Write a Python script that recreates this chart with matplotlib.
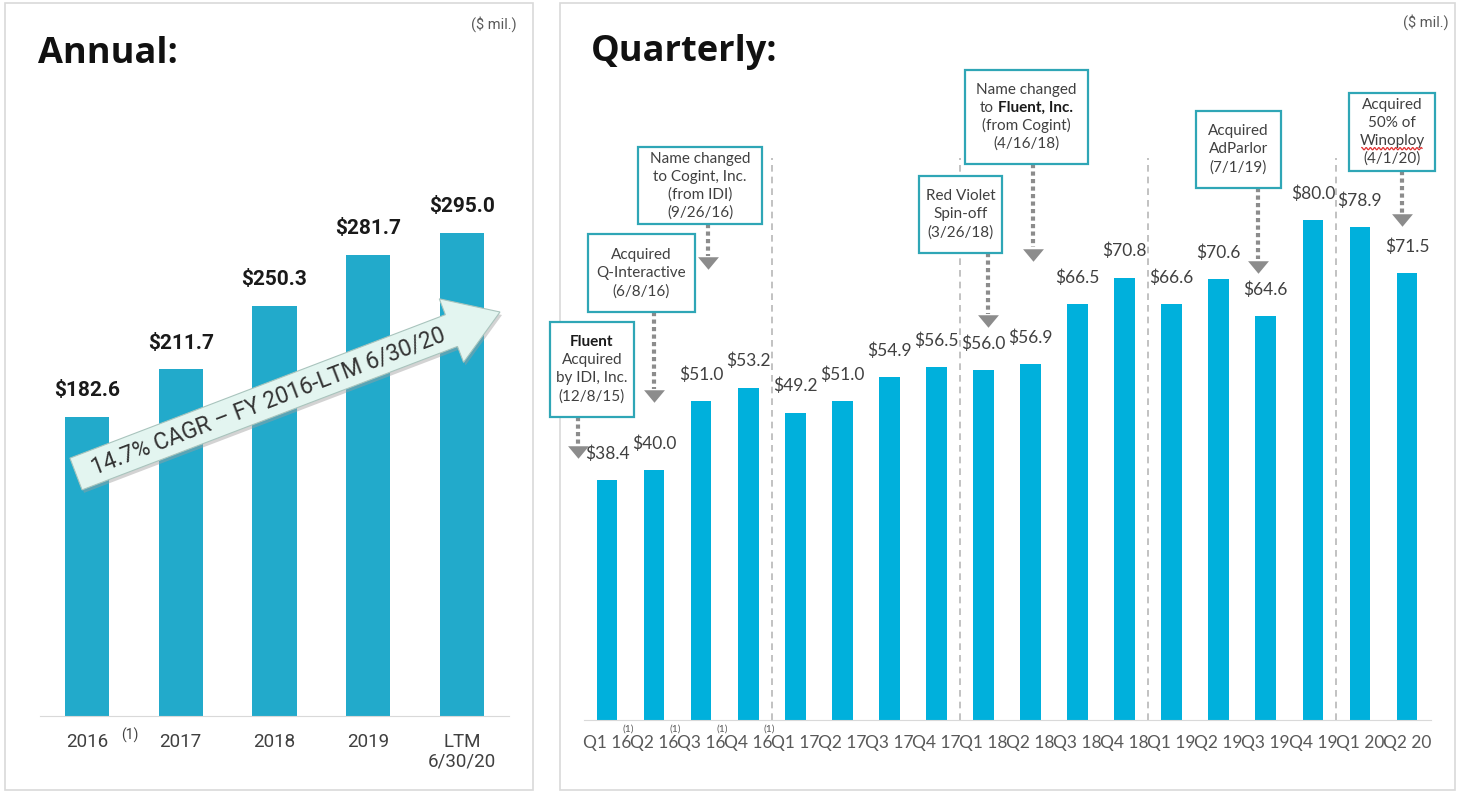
import matplotlib
matplotlib.use("Agg")
import matplotlib.pyplot as plt
import numpy as np
from matplotlib.patches import Rectangle, FancyArrow
from matplotlib.transforms import IdentityTransform
from matplotlib.offsetbox import TextArea, HPacker, AnnotationBbox

# annual revenue ($ mil.)
years = ["2016", "2017", "2018", "2019", "LTM\n6/30/20"]
annual_rev = [182.6, 211.7, 250.3, 281.7, 295.0]

# quarterly revenue ($ mil.)
quarters = ["Q1 16", "Q2 16", "Q3 16", "Q4 16",
            "Q1 17", "Q2 17", "Q3 17", "Q4 17",
            "Q1 18", "Q2 18", "Q3 18", "Q4 18",
            "Q1 19", "Q2 19", "Q3 19", "Q4 19",
            "Q1 20", "Q2 20"]
quarterly_rev = [38.4, 40.0, 51.0, 53.2,
                 49.2, 51.0, 54.9, 56.5,
                 56.0, 56.9, 66.5, 70.8,
                 66.6, 70.6, 64.6, 80.0,
                 78.9, 71.5]
footnoted = ["Q1 16", "Q2 16", "Q3 16", "Q4 16"]

cagr_text = "14.7% CAGR \u2013 FY 2016-LTM 6/30/20"

# event call-outs: lines, box centre/size, arrow x, arrow top, arrow tip (data units)
events = [
    ([[("Fluent", True)], "Acquired", "by IDI, Inc.", "(12/8/15)"],
     -0.32, 56.1, 1.785, 15.2, -0.616, 48.5, 42.9),
    (["Acquired", "Q-Interactive", "(6/8/16)"],
     0.73, 71.5, 2.27, 12.5, 1.0, 65.3, 51.8),
    (["Name changed", "to Cogint, Inc.", "(from IDI)", "(9/26/16)"],
     1.98, 85.5, 2.63, 12.3, 2.15, 79.4, 73.1),
    (["Red Violet", "Spin-off", "(3/26/18)"],
     7.51, 80.9, 1.76, 12.3, 8.1, 74.7, 63.8),
    (["Name changed", [("to", False), ("Fluent, Inc.", True)], "(from Cogint)", "(4/16/18)"],
     8.91, 96.5, 2.61, 15.0, 9.05, 89.0, 74.4),
    (["Acquired", "AdParlor", "(7/1/19)"],
     13.42, 91.3, 1.81, 12.3, 13.83, 85.1, 72.5),
    (["Acquired", "50% of", "Winoploy", "(4/1/20)"],
     16.68, 94.1, 1.83, 12.5, 16.89, 87.8, 80.0),
]

W, H = 1459, 793
fig = plt.figure(figsize=(W / 100, H / 100), dpi=100)
fig.patch.set_facecolor("white")


def px_box(x0, y0, x1, y1):
    # pixel box (origin top-left) -> figure fraction rect
    return [x0 / W, 1 - y1 / H, (x1 - x0) / W, (y1 - y0) / H]


# panel frames
for x0, x1 in [(5, 533), (560, 1455)]:
    fig.add_artist(Rectangle((x0 / W, 3 / H), (x1 - x0) / W, 787 / H,
                             transform=fig.transFigure, fill=False,
                             ec="#d9d9d9", lw=1.2, zorder=0))

# ---------- annual ----------
ax1 = fig.add_axes(px_box(40, 716 - 654.8, 509, 716))
x1 = np.arange(len(years))
ax1.bar(x1, annual_rev, width=0.47, color="#22aacb", zorder=2)
for i, v in enumerate(annual_rev):
    ax1.annotate(f"${v:.1f}", (i, v), xytext=(0, 19), textcoords="offset points",
                 ha="center", va="center", fontsize=15, fontweight="bold",
                 family="Roboto", color="#1a1a1a")
ax1.set_xlim(-0.5, len(years) - 0.5)
ax1.set_ylim(0, 400)
ax1.set_xticks(x1, years, fontsize=13.5, family="Roboto", color="#404040",
               linespacing=1.1)
ax1.tick_params(length=0, pad=12)
ax1.set_yticks([])
for s in ["top", "left", "right"]:
    ax1.spines[s].set_visible(False)
ax1.spines["bottom"].set_color("#d9d9d9")
ax1.annotate("(1)", (0.46, 0), xytext=(0, -14), textcoords="offset points",
             ha="center", va="center", fontsize=10, family="Roboto", color="#404040")

# ---------- quarterly ----------
ax2 = fig.add_axes(px_box(583.5, 720 - 675, 1430.5, 720))
x2 = np.arange(len(quarters))
ax2.bar(x2, quarterly_rev, width=0.44, color="#00b0dc", zorder=2)
for i, v in enumerate(quarterly_rev):
    ax2.annotate(f"${v:.1f}", (i, v), xytext=(0, 19), textcoords="offset points",
                 ha="center", va="center", fontsize=12.5, family="Lato",
                 color="#404040")
ax2.set_xlim(-0.5, len(quarters) - 0.5)
ax2.set_ylim(0, 108)
ax2.set_xticks(x2, quarters, fontsize=12.5, family="Lato", color="#595959")
ax2.tick_params(length=0, pad=11)
ax2.set_yticks([])
for s in ["top", "left", "right"]:
    ax2.spines[s].set_visible(False)
ax2.spines["bottom"].set_color("#d9d9d9")
for q in footnoted:
    ax2.annotate("(1)", (quarters.index(q) + 0.45, 0), xytext=(0, -6.5),
                 textcoords="offset points", ha="center", va="center",
                 fontsize=7.5, family="Lato", color="#595959")

# year separators
ax2.vlines(np.arange(3.5, len(quarters) - 1, 4), 0, 90, colors="#b8b8b8",
           linestyles=(0, (4, 3)), lw=1.2, zorder=1)

# event call-outs
line_gap = 18 / 6.25
for lines, cx, cy, bw, bh, ax_x, a_top, a_tip in events:
    ax2.add_patch(Rectangle((cx - bw / 2, cy - bh / 2), bw, bh, fc="white",
                            ec="#2fa6b6", lw=1.6, zorder=6, clip_on=False))
    n = len(lines)
    for k, line in enumerate(lines):
        y = cy + (n - 1) / 2 * line_gap - k * line_gap
        if isinstance(line, str):
            ax2.text(cx, y, line, ha="center", va="center", fontsize=11,
                     family="Lato", color="#404040", zorder=7)
        elif len(line) == 1:
            ax2.text(cx, y, line[0][0], ha="center", va="center", fontsize=11,
                     family="Lato", color="#1a1a1a", zorder=7,
                     fontweight="bold" if line[0][1] else "normal")
        else:
            parts = [TextArea(t, textprops=dict(fontsize=11, family="Lato",
                                                color="#1a1a1a" if b else "#404040",
                                                fontweight="bold" if b else "normal"))
                     for t, b in line]
            pack = HPacker(children=parts, align="baseline", pad=0, sep=3)
            ab = AnnotationBbox(pack, (cx, y), frameon=False, box_alignment=(0.5, 0.5),
                                pad=0, zorder=7, annotation_clip=False)
            ax2.add_artist(ab)
        if line == "Winoploy":
            wx = np.linspace(cx - 0.64, cx + 0.64, 120)
            ax2.plot(wx, y - 1.25 + 0.18 * np.sin(wx * 2 * np.pi / 0.09),
                     color="#e03030", lw=0.9, zorder=8, clip_on=False)
    ax2.plot([ax_x, ax_x], [a_top, a_tip + 1.2], color="#8c8c8c", lw=3,
             linestyle=(0, (1, 0.8)), zorder=5, clip_on=False, solid_capstyle="butt")
    ax2.plot([ax_x], [a_tip], marker=[(-1, 0.6), (1, 0.6), (0, -0.6)],
             markersize=15, color="#8c8c8c", mec="none", zorder=5, clip_on=False)

# ---------- titles ----------
fig.text(38 / W, 1 - 54 / H, "Annual:", fontsize=26, fontweight="bold",
         family="Open Sans", va="center", ha="left", color="#111111")
fig.text(591 / W, 1 - 52 / H, "Quarterly:", fontsize=26, fontweight="bold",
         family="Open Sans", va="center", ha="left", color="#111111")
fig.text(517 / W, 1 - 24 / H, "($ mil.)", fontsize=10.5, family="Roboto",
         color="#595959", ha="right", va="center")
fig.text(1449 / W, 1 - 22 / H, "($ mil.)", fontsize=10.5, family="Roboto",
         color="#595959", ha="right", va="center")

# ---------- CAGR arrow ----------
tail = (76, H - 474)
tip = (500, H - 312)
dx, dy = tip[0] - tail[0], tip[1] - tail[1]
shadow = FancyArrow(tail[0] + 2, tail[1] - 3, dx, dy, width=34, head_width=68,
                    head_length=52, length_includes_head=True,
                    transform=IdentityTransform(), fc="#9e9e9e", ec="none",
                    alpha=0.45, zorder=4)
arrow = FancyArrow(tail[0], tail[1], dx, dy, width=34, head_width=68,
                   head_length=52, length_includes_head=True,
                   transform=IdentityTransform(), fc="#e3f5f0", ec="#a9c4bd",
                   lw=0.8, zorder=5)
fig.add_artist(shadow)
fig.add_artist(arrow)
fig.text(268 / W, 1 - 401 / H, cagr_text, rotation=np.degrees(np.arctan2(dy, dx)),
         rotation_mode="anchor", ha="center", va="center", fontsize=16.5,
         family="Roboto", color="#333333", zorder=6)

fig.savefig("out.png", dpi=100)
